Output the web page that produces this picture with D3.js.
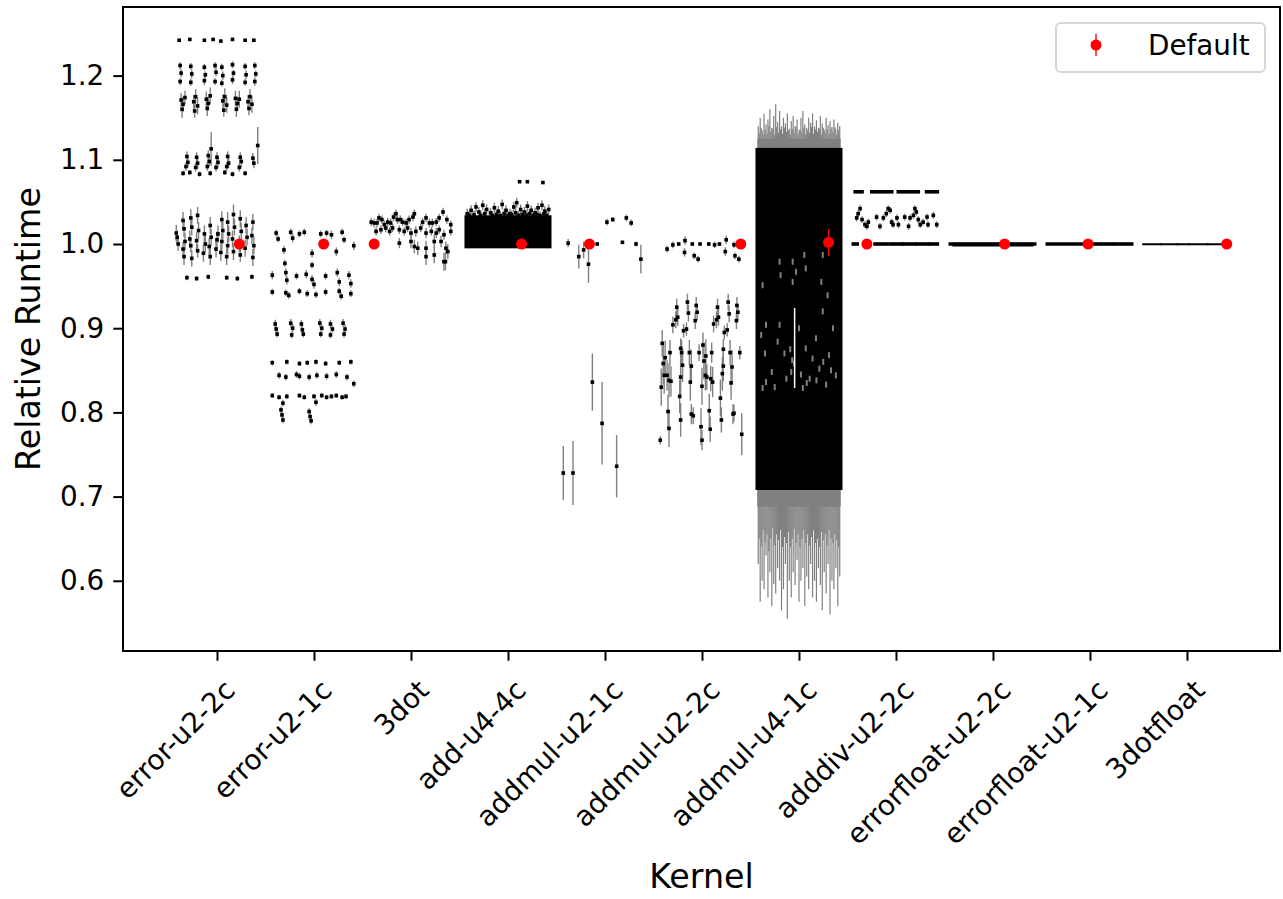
<!DOCTYPE html>
<html>
<head>
<meta charset="utf-8">
<script src="https://cdn.jsdelivr.net/npm/d3@7"></script>
<style>
  body { margin: 0; background: #fff; }
  text { font-family: "DejaVu Sans", sans-serif; }
</style>
</head>
<body>
<div id="chart"></div>
<script>
// kernels on the x axis
var kernels = ["error-u2-2c", "error-u2-1c", "3dot", "add-u4-4c", "addmul-u2-1c", "addmul-u2-2c",
  "addmul-u4-1c", "adddiv-u2-2c", "errorfloat-u2-2c", "errorfloat-u2-1c", "3dotfloat"];
var yTicks = [0.6, 0.7, 0.8, 0.9, 1.0, 1.1, 1.2];

// runs: [offset inside kernel slot, relative runtime, error]
var errorU22c = [
  [-0.39,1.242,0.001],[-0.28,1.243,0.001],[-0.13,1.242,0.001],[-0.04,1.243,0.001],[0.04,1.241,0.001],[0.16,1.243,0.001],[0.29,1.242,0.001],[0.38,1.242,0.001],
  [-0.38,1.212,0.004],[-0.37,1.203,0.005],[-0.38,1.193,0.004],[-0.27,1.211,0.004],[-0.26,1.202,0.005],[-0.27,1.192,0.004],
  [-0.13,1.210,0.004],[-0.12,1.201,0.004],[-0.13,1.194,0.005],[-0.02,1.212,0.004],[-0.01,1.204,0.005],[-0.02,1.193,0.004],
  [0.05,1.210,0.004],[0.06,1.200,0.005],[0.05,1.191,0.004],[0.16,1.213,0.004],[0.17,1.203,0.004],[0.16,1.195,0.005],
  [0.29,1.211,0.004],[0.30,1.201,0.005],[0.29,1.192,0.004],[0.39,1.212,0.004],[0.40,1.202,0.004],[0.39,1.193,0.005],
  [-0.37,1.171,0.008],[-0.35,1.166,0.009],[-0.33,1.174,0.008],[-0.36,1.160,0.010],
  [-0.24,1.169,0.008],[-0.22,1.175,0.009],[-0.20,1.164,0.010],[-0.23,1.158,0.008],
  [-0.11,1.172,0.009],[-0.09,1.167,0.008],[-0.07,1.176,0.010],[-0.10,1.161,0.009],
  [0.06,1.170,0.008],[0.08,1.175,0.010],[0.10,1.165,0.009],[0.07,1.159,0.008],
  [0.19,1.173,0.009],[0.21,1.167,0.008],[0.23,1.172,0.010],[0.20,1.160,0.009],
  [0.32,1.169,0.008],[0.34,1.175,0.009],[0.36,1.166,0.010],[0.33,1.161,0.008],
  [-0.31,1.104,0.006],[-0.30,1.097,0.006],[-0.32,1.092,0.005],[-0.21,1.103,0.006],[-0.20,1.096,0.007],[-0.22,1.091,0.005],
  [-0.09,1.105,0.006],[-0.08,1.098,0.006],[-0.10,1.092,0.005],[-0.06,1.113,0.020],
  [0.00,1.103,0.006],[0.01,1.097,0.006],[-0.01,1.091,0.005],[0.11,1.104,0.006],[0.12,1.096,0.006],[0.10,1.092,0.005],
  [0.24,1.103,0.006],[0.25,1.098,0.007],[0.23,1.091,0.005],[0.37,1.102,0.006],[0.38,1.096,0.006],[0.42,1.117,0.022],
  [-0.35,1.084,0.003],[-0.28,1.085,0.003],[-0.18,1.083,0.003],[-0.07,1.084,0.003],[0.08,1.085,0.003],[0.16,1.083,0.003],[0.29,1.084,0.003],
  [-0.41,1.008,0.008],[-0.40,1.000,0.008],[-0.42,1.013,0.010],
  [-0.35,1.028,0.010],[-0.34,1.018,0.010],[-0.33,1.003,0.010],[-0.35,0.994,0.008],[-0.34,0.985,0.010],
  [-0.27,1.031,0.010],[-0.26,1.020,0.010],[-0.28,1.006,0.010],[-0.27,0.998,0.008],[-0.26,0.983,0.010],
  [-0.20,1.034,0.010],[-0.19,1.016,0.010],[-0.21,1.004,0.010],[-0.20,0.992,0.008],
  [-0.13,1.012,0.010],[-0.12,1.000,0.010],[-0.14,0.989,0.010],
  [-0.07,1.022,0.010],[-0.06,1.008,0.010],[-0.08,0.997,0.010],[-0.07,0.985,0.010],
  [0.00,1.005,0.010],[0.01,1.012,0.010],[-0.01,0.994,0.010],
  [0.05,1.029,0.010],[0.06,1.016,0.010],[0.05,1.003,0.010],[0.04,0.990,0.010],
  [0.11,1.026,0.012],[0.12,1.012,0.010],[0.11,0.998,0.010],[0.10,0.985,0.010],
  [0.17,1.035,0.012],[0.18,1.020,0.010],[0.16,1.006,0.010],[0.17,0.991,0.010],
  [0.24,1.030,0.010],[0.25,1.015,0.010],[0.23,1.000,0.010],[0.24,0.987,0.008],
  [0.30,1.022,0.010],[0.31,1.008,0.010],[0.29,0.995,0.010],
  [0.37,1.026,0.010],[0.36,1.010,0.010],[0.38,0.998,0.010],[0.37,0.984,0.010],
  [-0.31,0.960,0.003],[-0.21,0.959,0.003],[-0.09,0.961,0.003],[0.10,0.960,0.003],[0.21,0.959,0.003],[0.36,0.961,0.003]
];

var errorU21c = [
  [-0.39,1.013,0.004],[-0.37,1.006,0.004],[-0.24,1.014,0.004],[-0.22,1.007,0.005],[-0.15,1.012,0.004],[-0.10,1.014,0.004],
  [0.07,1.012,0.004],[0.13,1.013,0.004],[0.18,1.011,0.005],[0.29,1.014,0.004],[0.31,1.005,0.004],
  [0.41,0.998,0.005],[0.23,0.991,0.005],[-0.31,0.993,0.005],[-0.02,0.989,0.005],[-0.30,0.977,0.004],[-0.02,0.975,0.004],
  [-0.43,0.963,0.005],[-0.29,0.966,0.005],[-0.28,0.957,0.005],[-0.18,0.962,0.004],[-0.08,0.964,0.005],[-0.02,0.958,0.005],
  [0.00,0.952,0.005],[0.12,0.962,0.004],[0.24,0.966,0.005],[0.26,0.955,0.005],[0.36,0.963,0.005],[0.38,0.953,0.005],
  [-0.43,0.943,0.004],[-0.29,0.942,0.004],[-0.26,0.939,0.004],[-0.15,0.944,0.004],[-0.07,0.941,0.004],[0.02,0.940,0.004],
  [0.12,0.943,0.004],[0.26,0.944,0.004],[0.28,0.938,0.004],[0.38,0.941,0.004],
  [-0.40,0.905,0.005],[-0.39,0.899,0.005],[-0.38,0.893,0.004],[-0.24,0.906,0.005],[-0.22,0.900,0.005],[-0.23,0.892,0.004],
  [-0.13,0.905,0.005],[-0.12,0.898,0.004],[-0.11,0.893,0.004],[0.06,0.906,0.005],[0.08,0.900,0.004],[0.07,0.893,0.004],
  [0.17,0.905,0.005],[0.19,0.899,0.004],[0.17,0.892,0.004],[0.30,0.906,0.005],[0.32,0.899,0.005],[0.31,0.893,0.004],
  [-0.43,0.859,0.003],[-0.28,0.860,0.003],[-0.15,0.858,0.003],[-0.07,0.859,0.003],[0.02,0.860,0.003],[0.12,0.858,0.003],
  [0.26,0.859,0.003],[0.38,0.860,0.003],
  [-0.36,0.844,0.004],[-0.29,0.842,0.004],[-0.18,0.845,0.004],[-0.15,0.843,0.004],[-0.05,0.842,0.004],[0.03,0.844,0.004],
  [0.13,0.843,0.004],[0.23,0.845,0.004],[0.34,0.842,0.004],[0.41,0.834,0.004],
  [-0.43,0.820,0.003],[-0.36,0.818,0.003],[-0.28,0.819,0.003],[-0.15,0.820,0.003],[-0.10,0.818,0.003],[0.00,0.819,0.003],
  [0.08,0.820,0.003],[0.13,0.818,0.003],[0.18,0.819,0.003],[0.23,0.820,0.003],[0.29,0.818,0.003],[0.33,0.819,0.003],
  [-0.32,0.811,0.004],[0.02,0.812,0.004],
  [-0.34,0.803,0.004],[-0.33,0.797,0.004],[-0.32,0.791,0.004],[-0.05,0.801,0.004],[-0.04,0.795,0.004],[-0.03,0.790,0.004]
];

var dot3 = [
  [-0.41,1.026,0.005],[-0.38,1.025,0.005],[-0.35,1.025,0.005],[-0.33,1.031,0.005],[-0.30,1.029,0.005],[-0.275,1.023,0.005],
  [-0.24,1.026,0.005],[-0.21,1.025,0.005],[-0.18,1.032,0.005],[-0.155,1.036,0.005],[-0.14,1.029,0.005],[-0.11,1.029,0.005],
  [-0.085,1.026,0.005],[-0.05,1.025,0.005],[-0.02,1.029,0.005],[0.02,1.032,0.005],[0.035,1.036,0.005],[0.12,1.026,0.005],
  [0.155,1.031,0.005],[0.19,1.025,0.005],[0.22,1.025,0.005],[0.26,1.026,0.005],[0.29,1.031,0.005],[0.33,1.038,0.005],
  [0.37,1.029,0.005],[0.41,1.023,0.005],
  [-0.36,1.015,0.005],[-0.31,1.017,0.005],[-0.26,1.019,0.005],[-0.22,1.015,0.005],[-0.19,1.019,0.005],[-0.12,1.017,0.005],
  [-0.07,1.015,0.005],[-0.035,1.019,0.005],[0.00,1.013,0.006],[0.05,1.015,0.006],[0.10,1.019,0.005],[0.155,1.013,0.006],
  [0.21,1.015,0.005],[0.26,1.013,0.006],[0.29,1.017,0.005],[0.34,1.011,0.006],[0.41,1.015,0.005],
  [-0.12,1.001,0.006],[0.00,1.003,0.008],[0.035,0.997,0.008],[0.07,0.995,0.008],[0.155,0.995,0.009],[0.24,1.003,0.008],
  [0.31,1.003,0.007],[0.36,0.995,0.008],[0.38,0.991,0.009],[0.155,0.985,0.010],[0.24,0.987,0.010],[0.34,0.979,0.011],[0.355,0.979,0.010]
];

var addU44cTop = [
  [-0.42,1.036,0.006],[-0.38,1.040,0.006],[-0.33,1.044,0.006],[-0.30,1.038,0.006],[-0.26,1.046,0.006],[-0.22,1.041,0.006],
  [-0.18,1.037,0.006],[-0.14,1.043,0.006],[-0.10,1.039,0.006],[-0.06,1.047,0.006],[-0.02,1.040,0.006],[0.02,1.036,0.006],
  [0.06,1.044,0.006],[0.09,1.049,0.006],[0.13,1.041,0.006],[0.17,1.038,0.006],[0.20,1.045,0.006],[0.24,1.040,0.006],
  [0.28,1.037,0.006],[0.31,1.043,0.006],[0.35,1.046,0.006],[0.38,1.039,0.006],[0.42,1.041,0.006],
  [-0.40,1.034,0.005],[-0.35,1.035,0.005],[-0.28,1.034,0.005],[-0.24,1.036,0.005],[-0.16,1.034,0.005],[-0.12,1.035,0.005],
  [-0.08,1.034,0.005],[-0.04,1.036,0.005],[0.00,1.034,0.005],[0.04,1.035,0.005],[0.08,1.037,0.005],[0.11,1.034,0.005],
  [0.15,1.035,0.005],[0.19,1.034,0.005],[0.22,1.036,0.005],[0.26,1.034,0.005],[0.30,1.035,0.005],[0.33,1.034,0.005],
  [0.37,1.036,0.005],[0.40,1.034,0.005],
  [0.12,1.074,0.001],[0.20,1.074,0.001],[0.36,1.073,0.001]
];

var addmulU21c = [
  [-0.38,1.001,0.005],[-0.27,0.985,0.014],[-0.22,0.993,0.010],[-0.17,0.976,0.022],[-0.08,1.000,0.002],
  [0.02,1.026,0.004],[0.08,1.029,0.003],[0.22,1.031,0.004],[0.27,1.025,0.004],[0.18,1.002,0.002],[0.32,1.000,0.003],
  [0.37,0.982,0.017],[-0.13,0.836,0.034],[-0.03,0.787,0.049],[0.12,0.736,0.037],[-0.43,0.728,0.032],[-0.33,0.728,0.038]
];

var addmulU22c = [
  [-0.36,0.994,0.004],[-0.30,0.999,0.004],[-0.24,1.000,0.002],[-0.175,1.004,0.005],[-0.18,0.990,0.005],[-0.10,1.000,0.002],
  [-0.08,0.986,0.004],[-0.04,0.982,0.004],[-0.02,1.000,0.002],[0.07,1.000,0.002],[0.13,0.999,0.004],[0.18,1.000,0.002],
  [0.24,0.991,0.005],[0.25,1.005,0.005],[0.33,0.999,0.004],[0.34,0.986,0.004],[0.38,0.982,0.004],
  [-0.26,0.925,0.010],[-0.25,0.913,0.010],[-0.27,0.910,0.010],[-0.30,0.904,0.010],[-0.15,0.931,0.010],[-0.14,0.918,0.010],
  [-0.19,0.897,0.008],[-0.16,0.899,0.008],[-0.06,0.927,0.010],[-0.05,0.919,0.010],[-0.07,0.909,0.010],
  [0.16,0.925,0.010],[0.17,0.913,0.010],[0.15,0.910,0.010],[0.12,0.905,0.010],[0.27,0.931,0.010],[0.28,0.917,0.010],
  [0.26,0.898,0.008],[0.23,0.895,0.008],[0.36,0.927,0.010],[0.37,0.919,0.010],[0.355,0.909,0.010],
  [-0.41,0.882,0.016],[-0.38,0.865,0.020],[-0.40,0.858,0.025],[-0.39,0.844,0.022],[-0.36,0.844,0.018],[-0.42,0.830,0.022],
  [-0.33,0.871,0.015],[-0.34,0.838,0.020],[-0.32,0.837,0.018],[-0.35,0.801,0.020],[-0.34,0.781,0.022],[-0.43,0.767,0.005],
  [-0.22,0.876,0.012],[-0.21,0.871,0.015],[-0.20,0.856,0.020],[-0.22,0.842,0.022],[-0.23,0.819,0.020],[-0.22,0.791,0.020],
  [-0.13,0.871,0.015],[-0.11,0.855,0.020],[-0.12,0.836,0.022],[-0.11,0.798,0.012],[-0.09,0.796,0.010],
  [-0.03,0.871,0.010],[0.01,0.880,0.015],[0.04,0.867,0.020],[0.02,0.861,0.022],[0.035,0.844,0.018],[0.05,0.842,0.015],
  [0.00,0.831,0.022],[-0.01,0.783,0.022],[0.00,0.767,0.012],[0.075,0.802,0.020],[0.085,0.780,0.015],[0.09,0.840,0.015],
  [0.11,0.836,0.018],[0.10,0.871,0.012],[0.19,0.817,0.022],[0.20,0.791,0.015],[0.21,0.846,0.020],[0.22,0.855,0.018],
  [0.22,0.875,0.012],[0.29,0.871,0.015],[0.31,0.854,0.020],[0.30,0.835,0.020],[0.32,0.798,0.012],[0.33,0.799,0.010],
  [0.39,0.871,0.008],[0.41,0.774,0.025]
];

var adddivU22c = [
  [-0.37,1.042,0.004],[-0.39,1.036,0.004],[-0.405,1.031,0.004],[-0.35,1.029,0.004],[-0.32,1.023,0.004],[-0.285,1.026,0.004],
  [-0.30,1.021,0.004],[-0.20,1.032,0.004],[-0.165,1.021,0.004],[-0.13,1.031,0.004],[-0.10,1.036,0.004],[-0.08,1.042,0.004],
  [-0.06,1.040,0.004],[-0.045,1.026,0.004],[-0.03,1.023,0.004],[0.01,1.031,0.004],[0.025,1.023,0.004],[0.09,1.032,0.004],
  [0.13,1.021,0.004],[0.145,1.031,0.004],[0.18,1.034,0.004],[0.195,1.042,0.004],[0.21,1.038,0.004],[0.23,1.029,0.004],
  [0.25,1.023,0.004],[0.28,1.026,0.004],[0.32,1.032,0.004],[0.33,1.023,0.004],[0.385,1.034,0.004],[0.42,1.023,0.004]
];

// overlapping runs of identical values: [kernel, offset from, offset to, relative runtime]
var flatRuns = [
  [7,-0.42,-0.35,1.062],[7,-0.25,-0.044,1.062],[7,0.024,0.23,1.062],[7,0.316,0.426,1.062],
  [7,-0.44,-0.40,1.0],[7,-0.216,-0.096,1.0],[7,-0.062,0.058,1.0],[7,0.075,0.196,1.0],[7,0.22,0.333,1.0],[7,0.358,0.426,1.0],
  [8,-0.44,0.43,1.0],[8,-0.40,0.40,0.9993],
  [9,-0.44,0.034,1.0],[9,0.069,0.137,1.0],[9,0.172,0.275,1.0],[9,0.309,0.43,1.0],
  [10,-0.443,-0.278,0.9997],[10,-0.26,-0.106,0.9997],[10,-0.09,0.013,0.9997],[10,0.031,0.203,0.9997],[10,0.22,0.374,0.9997]
];

// solid blocks where runs overlap completely: [kernel, offset from, offset to, low, high]
var denseBlocks = [[3,-0.43,0.43,0.997,1.032],[6,-0.43,0.43,0.710,1.112]];

// addmul-u4-1c: error whiskers sticking out [offset, top, bottom], grey fill range, gaps inside
var u4Whiskers = [
  [-0.42,1.140,0.620],[-0.40,1.150,0.575],[-0.38,1.135,0.600],[-0.36,1.155,0.590],[-0.34,1.142,0.630],[-0.32,1.148,0.580],
  [-0.30,1.160,0.610],[-0.28,1.138,0.570],[-0.26,1.152,0.596],[-0.24,1.166,0.585],[-0.22,1.145,0.615],[-0.20,1.158,0.600],
  [-0.18,1.140,0.565],[-0.16,1.150,0.590],[-0.14,1.143,0.620],[-0.12,1.155,0.555],[-0.10,1.137,0.600],[-0.08,1.146,0.580],
  [-0.06,1.152,0.610],[-0.04,1.140,0.595],[-0.02,1.148,0.625],[0.00,1.135,0.575],[0.02,1.150,0.600],[0.04,1.158,0.615],
  [0.06,1.142,0.570],[0.08,1.138,0.605],[0.10,1.150,0.590],[0.12,1.144,0.620],[0.14,1.155,0.580],[0.16,1.140,0.600],
  [0.18,1.147,0.575],[0.20,1.138,0.615],[0.22,1.152,0.595],[0.24,1.143,0.565],[0.26,1.136,0.610],[0.28,1.150,0.585],
  [0.30,1.141,0.620],[0.32,1.146,0.560],[0.34,1.139,0.600],[0.36,1.148,0.590],[0.38,1.137,0.615],[0.40,1.144,0.570],
  [0.42,1.140,0.605],
  [-0.41,1.132,0.650],[-0.39,1.138,0.640],[-0.37,1.130,0.660],[-0.35,1.136,0.645],[-0.33,1.131,0.655],[-0.31,1.140,0.635],
  [-0.29,1.133,0.650],[-0.27,1.137,0.662],[-0.25,1.130,0.642],[-0.23,1.139,0.655],[-0.21,1.132,0.648],[-0.19,1.136,0.660],
  [-0.17,1.131,0.640],[-0.15,1.138,0.652],[-0.13,1.133,0.645],[-0.11,1.135,0.658],[-0.09,1.130,0.640],[-0.07,1.137,0.650],
  [-0.05,1.132,0.662],[-0.03,1.139,0.645],[-0.01,1.131,0.655],[0.01,1.136,0.640],[0.03,1.133,0.650],[0.05,1.138,0.660],
  [0.07,1.130,0.645],[0.09,1.135,0.655],[0.11,1.132,0.642],[0.13,1.139,0.652],[0.15,1.131,0.660],[0.17,1.136,0.645],
  [0.19,1.133,0.650],[0.21,1.137,0.640],[0.23,1.130,0.658],[0.25,1.138,0.648],[0.27,1.132,0.655],[0.29,1.136,0.642],
  [0.31,1.131,0.660],[0.33,1.137,0.650],[0.35,1.133,0.645],[0.37,1.139,0.655],[0.39,1.130,0.648],[0.41,1.135,0.640]
];
var u4GreyRange = [0.688, 1.125];
var u4Holes = [
  [-0.20,0.979],[-0.19,0.963],[-0.065,0.979],[-0.03,0.967],[0.055,0.987],[0.07,0.971],[0.245,0.987],[0.23,0.955],
  [0.295,0.939],[-0.375,0.951],[-0.34,0.904],[-0.39,0.892],[-0.20,0.904],[-0.22,0.884],[0.00,0.900],[0.07,0.876],
  [0.14,0.864],[0.21,0.852],[0.31,0.868],[0.38,0.844],[-0.34,0.836],[-0.13,0.840],[0.11,0.840],[0.28,0.833],
  [0.35,0.900],[0.175,0.888],[0.245,0.920],[-0.375,0.829],[0.04,0.829],[-0.065,0.955],[-0.28,0.848],[-0.05,0.858],
  [0.02,0.845],[0.18,0.838],[0.25,0.860],[-0.15,0.870],[0.33,0.850],[-0.25,0.830],[0.08,0.835],[-0.35,0.870],
  [-0.09,0.875],[-0.07,0.862],[-0.08,0.848]
];
var u4Gap = [-0.045, 0.829, 0.924];

// default configuration per kernel: offset, value, error
var defaultDx = [0.23, 0.10, -0.38, 0.14, -0.16, 0.40, 0.305, -0.30, 0.12, -0.02, 0.41];
var defaultVal = [1.0, 1.0, 1.0, 1.0, 1.0, 1.0, 1.002, 1.0, 1.0, 1.0, 1.0];
var defaultErr = [0.002, 0.002, 0.002, 0.002, 0.003, 0.002, 0.016, 0.002, 0.001, 0.001, 0.001];

var samples = [[0, errorU22c], [1, errorU21c], [2, dot3], [3, addU44cTop], [4, addmulU21c], [5, addmulU22c], [7, adddivU22c]];

var svgWidth = 1283;
var svgHeight = 899;
var margin = { top: 7, right: 3, bottom: 248, left: 123 };
var width = svgWidth - margin.left - margin.right;
var height = svgHeight - margin.top - margin.bottom;

var svg = d3.select("#chart").append("svg")
  .attr("width", svgWidth)
  .attr("height", svgHeight);

var chartGroup = svg.append("g")
  .attr("transform", `translate(${margin.left}, ${margin.top})`);

var xScale = d3.scaleLinear().domain([-0.969, 10.959]).range([0, width]);
var yScale = d3.scaleLinear().domain([0.5166, 1.2815]).range([height, 0]);

var grey = "#808080";
var sq = 3.6;

// addmul-u4-1c block: whiskers, grey fill, black block
var u4 = 6;
chartGroup.append("g").selectAll("line")
  .data(u4Whiskers)
  .enter()
  .append("line")
  .attr("x1", d => xScale(u4 + d[0]))
  .attr("x2", d => xScale(u4 + d[0]))
  .attr("y1", d => yScale(d[1]))
  .attr("y2", d => yScale(d[2]))
  .attr("stroke", grey)
  .attr("stroke-width", 1.2);

chartGroup.append("rect")
  .attr("x", xScale(u4 - 0.43))
  .attr("width", xScale(u4 + 0.43) - xScale(u4 - 0.43))
  .attr("y", yScale(u4GreyRange[1]))
  .attr("height", yScale(u4GreyRange[0]) - yScale(u4GreyRange[1]))
  .attr("fill", grey);

// error bars of the sampled runs
samples.forEach(function(s) {
  var k = s[0];
  chartGroup.append("g").selectAll("line")
    .data(s[1])
    .enter()
    .append("line")
    .attr("x1", d => xScale(k + d[0]))
    .attr("x2", d => xScale(k + d[0]))
    .attr("y1", d => yScale(d[1] - d[2]))
    .attr("y2", d => yScale(d[1] + d[2]))
    .attr("stroke", grey)
    .attr("stroke-width", 1.4);
});

// dense blocks
chartGroup.append("g").selectAll("rect")
  .data(denseBlocks)
  .enter()
  .append("rect")
  .attr("x", d => xScale(d[0] + d[1]) - sq / 2)
  .attr("width", d => xScale(d[0] + d[2]) - xScale(d[0] + d[1]) + sq)
  .attr("y", d => yScale(d[4]) - sq / 2)
  .attr("height", d => yScale(d[3]) - yScale(d[4]) + sq)
  .attr("fill", "black");

// grey holes and white gap in the addmul-u4-1c block
chartGroup.append("g").selectAll("rect")
  .data(u4Holes)
  .enter()
  .append("rect")
  .attr("x", d => xScale(u4 + d[0]) - 1)
  .attr("y", d => yScale(d[1]) - 3)
  .attr("width", 2)
  .attr("height", 6)
  .attr("fill", grey);

chartGroup.append("line")
  .attr("x1", xScale(u4 + u4Gap[0]))
  .attr("x2", xScale(u4 + u4Gap[0]))
  .attr("y1", yScale(u4Gap[1]))
  .attr("y2", yScale(u4Gap[2]))
  .attr("stroke", "white")
  .attr("stroke-width", 1.5);

// sample markers
samples.forEach(function(s) {
  var k = s[0];
  chartGroup.append("g").selectAll("rect")
    .data(s[1])
    .enter()
    .append("rect")
    .attr("x", d => xScale(k + d[0]) - sq / 2)
    .attr("y", d => yScale(d[1]) - sq / 2)
    .attr("width", sq)
    .attr("height", sq)
    .attr("fill", "black");
});

// flat runs
chartGroup.append("g").selectAll("line")
  .data(flatRuns)
  .enter()
  .append("line")
  .attr("x1", d => xScale(d[0] + d[1]) - sq / 2)
  .attr("x2", d => xScale(d[0] + d[2]) + sq / 2)
  .attr("y1", d => yScale(d[3]))
  .attr("y2", d => yScale(d[3]))
  .attr("stroke", "black")
  .attr("stroke-width", d => d[0] === 10 ? 2 : sq);

// defaults
var defaults = kernels.map((k, i) => ({ i: i, dx: defaultDx[i], v: defaultVal[i], e: defaultErr[i] }));

chartGroup.append("g").selectAll("line")
  .data(defaults)
  .enter()
  .append("line")
  .attr("x1", d => xScale(d.i + d.dx))
  .attr("x2", d => xScale(d.i + d.dx))
  .attr("y1", d => yScale(d.v - d.e))
  .attr("y2", d => yScale(d.v + d.e))
  .attr("stroke", "red")
  .attr("stroke-width", 1.4);

chartGroup.append("g").selectAll("circle")
  .data(defaults)
  .enter()
  .append("circle")
  .attr("cx", d => xScale(d.i + d.dx))
  .attr("cy", d => yScale(d.v))
  .attr("r", 5.5)
  .attr("fill", "red");

// axes
var leftAxis = d3.axisLeft(yScale)
  .tickValues(yTicks)
  .tickFormat(d3.format(".1f"))
  .tickSize(9.7)
  .tickPadding(9);

var bottomAxis = d3.axisBottom(xScale)
  .tickValues(d3.range(kernels.length))
  .tickFormat(i => kernels[i])
  .tickSize(9.7);

var yAxisG = chartGroup.append("g").call(leftAxis);
yAxisG.select(".domain").remove();
yAxisG.selectAll("line").attr("stroke-width", 2);
yAxisG.selectAll("text")
  .attr("font-size", 27.8)
  .attr("font-family", "DejaVu Sans")
  .attr("fill", "black");

var xAxisG = chartGroup.append("g")
  .attr("transform", `translate(0, ${height})`)
  .call(bottomAxis);
xAxisG.select(".domain").remove();
xAxisG.selectAll("line").attr("stroke-width", 2);
xAxisG.selectAll("text")
  .attr("font-size", 27.8)
  .attr("font-family", "DejaVu Sans")
  .attr("fill", "black")
  .attr("text-anchor", "end")
  .attr("dy", null)
  .attr("y", null)
  .attr("transform", "translate(19, 41) rotate(-45)");

// frame
chartGroup.append("rect")
  .attr("width", width)
  .attr("height", height)
  .attr("fill", "none")
  .attr("stroke", "black")
  .attr("stroke-width", 2);

// axis labels
chartGroup.append("text")
  .attr("transform", `translate(${-margin.left + 40}, ${height / 2}) rotate(-90)`)
  .attr("text-anchor", "middle")
  .attr("font-size", 33.3)
  .text("Relative Runtime");

chartGroup.append("text")
  .attr("x", width / 2)
  .attr("y", height + 237)
  .attr("text-anchor", "middle")
  .attr("font-size", 33.3)
  .text("Kernel");

// legend
var legend = chartGroup.append("g")
  .attr("transform", `translate(${width - 224}, 16)`);

legend.append("rect")
  .attr("width", 209)
  .attr("height", 49)
  .attr("rx", 5)
  .attr("fill", "white")
  .attr("fill-opacity", 0.8)
  .attr("stroke", "#d6d6d6")
  .attr("stroke-width", 2);

legend.append("line")
  .attr("x1", 40).attr("x2", 40)
  .attr("y1", 11).attr("y2", 33)
  .attr("stroke", "red")
  .attr("stroke-width", 1.4);

legend.append("circle")
  .attr("cx", 40)
  .attr("cy", 22)
  .attr("r", 5.5)
  .attr("fill", "red");

legend.append("text")
  .attr("x", 92)
  .attr("y", 32)
  .attr("font-size", 27.8)
  .text("Default");
</script>
</body>
</html>
